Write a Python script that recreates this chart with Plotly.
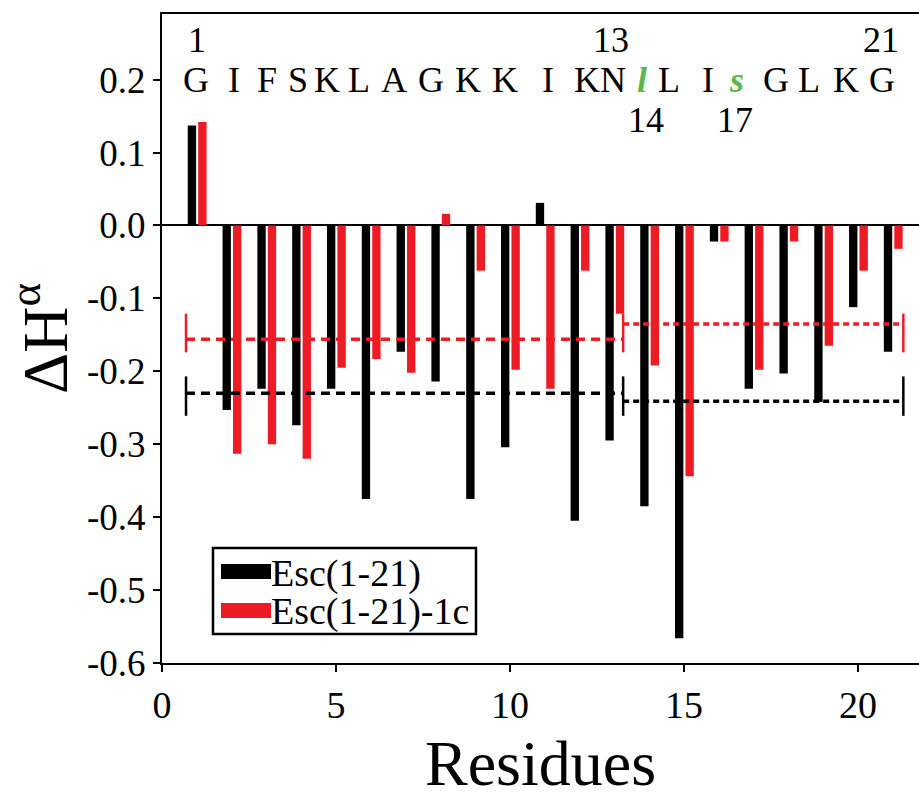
import plotly.graph_objects as go

# ---------------- data ----------------
residues = list(range(1, 22))
esc = [0.137, -0.253, -0.224, -0.274, -0.224, -0.375, -0.173, -0.214, -0.375, -0.304,
       0.031, -0.405, -0.295, -0.385, -0.566, -0.022, -0.224, -0.203, -0.242, -0.112, -0.173]
esc_1c = [0.142, -0.313, -0.300, -0.320, -0.195, -0.183, -0.202, 0.016, -0.062, -0.198,
          -0.224, -0.062, -0.121, -0.192, -0.344, -0.022, -0.198, -0.022, -0.165, -0.062, -0.032]

# segment averages (residues 1-13 and 14-21)
seg_bounds = [(0.69, 13.25), (13.25, 21.3)]
esc_avg = [-0.230, -0.241]
esc_1c_avg = [-0.156, -0.135]
esc_cap = (-0.261, -0.207)
esc_1c_cap = (-0.174, -0.121)

sequence = ["G", "I", "F", "S", "K", "L", "A", "G", "K", "K", "I", "K", "N",
            "l", "L", "I", "s", "G", "L", "K", "G"]
seq_x = [0.99, 2.08, 3.03, 3.91, 4.74, 5.65, 6.67, 7.74, 8.79, 9.86, 11.09, 12.2,
         12.96, 13.8, 14.57, 15.68, 16.52, 17.63, 18.6, 19.65, 20.7]
highlight = {"l", "s"}
num_above = [("1", 1.0), ("13", 12.9), ("21", 20.65)]
num_below = [("14", 13.9), ("17", 16.45)]

x_ticks = [0, 5, 10, 15, 20]
y_ticks = [0.2, 0.1, 0.0, -0.1, -0.2, -0.3, -0.4, -0.5, -0.6]
y_ticktext = ["0.2", "0.1", "0.0", "-0.1", "-0.2", "-0.3", "-0.4", "-0.5", "-0.6"]

BLACK = "#000000"
RED = "#ED1C24"
GREEN = "#5DB84A"
SERIF = "Liberation Serif, Times New Roman, serif"

fig = go.Figure()
fig.add_trace(go.Bar(x=residues, y=esc, width=0.24, offset=-0.26,
                     marker=dict(color=BLACK, line=dict(width=0)), name="Esc(1-21)",
                     showlegend=False))
fig.add_trace(go.Bar(x=residues, y=esc_1c, width=0.24, offset=0.04,
                     marker=dict(color=RED, line=dict(width=0)), name="Esc(1-21)-1c",
                     showlegend=False))

dash_styles = ["9px,6px", "6px,4px"]
for avg, cap, col in [(esc_1c_avg, esc_1c_cap, RED), (esc_avg, esc_cap, BLACK)]:
    for i, (a, b) in enumerate(seg_bounds):
        fig.add_trace(go.Scatter(x=[a, b], y=[avg[i], avg[i]], mode="lines",
                                 line=dict(color=col, width=3.5, dash=dash_styles[i]),
                                 showlegend=False, hoverinfo="skip"))
    for xc in [seg_bounds[0][0], seg_bounds[0][1], seg_bounds[1][1]]:
        fig.add_trace(go.Scatter(x=[xc, xc], y=list(cap), mode="lines",
                                 line=dict(color=col, width=2.5),
                                 showlegend=False, hoverinfo="skip"))

annotations = []
for s, xs in zip(sequence, seq_x):
    if s in highlight:
        txt = f"<b><i>{s}</i></b>"
        col = GREEN
    else:
        txt = s
        col = BLACK
    annotations.append(dict(x=xs, y=0.2, xref="x", yref="y", text=txt, showarrow=False,
                            font=dict(family=SERIF, size=36, color=col),
                            xanchor="center", yanchor="middle"))
for t, xs in num_above:
    annotations.append(dict(x=xs, y=0.2, xref="x", yref="y", text=t, showarrow=False,
                            font=dict(family=SERIF, size=36, color=BLACK),
                            xanchor="center", yanchor="bottom", yshift=18))
for t, xs in num_below:
    annotations.append(dict(x=xs, y=0.2, xref="x", yref="y", text=t, showarrow=False,
                            font=dict(family=SERIF, size=36, color=BLACK),
                            xanchor="center", yanchor="top", yshift=-18))

# manual legend (plot area: x 162..919 px, y 14..663 px)
PW, PH, L0, B0 = 919 - 162, 663 - 14, 162, 663
def px(x):
    return (x - L0) / PW
def py(y):
    return (B0 - y) / PH

shapes = [
    dict(type="rect", xref="paper", yref="paper", x0=px(213), x1=px(476), y0=py(634), y1=py(548),
         line=dict(color=BLACK, width=2.5), fillcolor="white", layer="above"),
    dict(type="rect", xref="paper", yref="paper", x0=px(221), x1=px(271), y0=py(579), y1=py(564),
         line=dict(width=0), fillcolor=BLACK, layer="above"),
    dict(type="rect", xref="paper", yref="paper", x0=px(221), x1=px(271), y0=py(618), y1=py(603),
         line=dict(width=0), fillcolor=RED, layer="above"),
]
annotations.append(dict(x=px(269), y=py(573), xref="paper", yref="paper", text="Esc(1-21)",
                        showarrow=False, xanchor="left", yanchor="middle",
                        font=dict(family=SERIF, size=38, color=BLACK)))
annotations.append(dict(x=px(269), y=py(611), xref="paper", yref="paper", text="Esc(1-21)-1c",
                        showarrow=False, xanchor="left", yanchor="middle",
                        font=dict(family=SERIF, size=38, color=BLACK)))

fig.update_layout(
    width=919, height=799,
    margin=dict(l=162, r=0, t=14, b=136),
    plot_bgcolor="white", paper_bgcolor="white",
    barmode="overlay",
    font=dict(family=SERIF, color=BLACK),
    annotations=annotations,
    shapes=shapes,
    showlegend=False,
    xaxis=dict(range=[0, 21.75], tickvals=x_ticks, ticks="outside", ticklen=7, tickwidth=2,
               tickcolor=BLACK, showline=True, linecolor=BLACK, linewidth=2, mirror=True,
               showgrid=False, zeroline=False,
               tickfont=dict(family=SERIF, size=38, color=BLACK),
               title=dict(text="Residues", font=dict(family=SERIF, size=64, color=BLACK),
                          standoff=16)),
    yaxis=dict(range=[-0.6, 0.29], tickvals=y_ticks, ticktext=y_ticktext, ticks="outside",
               ticklen=7, tickwidth=2, tickcolor=BLACK, showline=True, linecolor=BLACK,
               linewidth=2, showgrid=False, zeroline=True, zerolinecolor=BLACK,
               zerolinewidth=2,
               tickfont=dict(family=SERIF, size=37, color=BLACK),
               title=dict(text="ΔH<sup>α</sup>", font=dict(family=SERIF, size=64, color=BLACK),
                          standoff=8)),
)

fig.write_html("out.html")
